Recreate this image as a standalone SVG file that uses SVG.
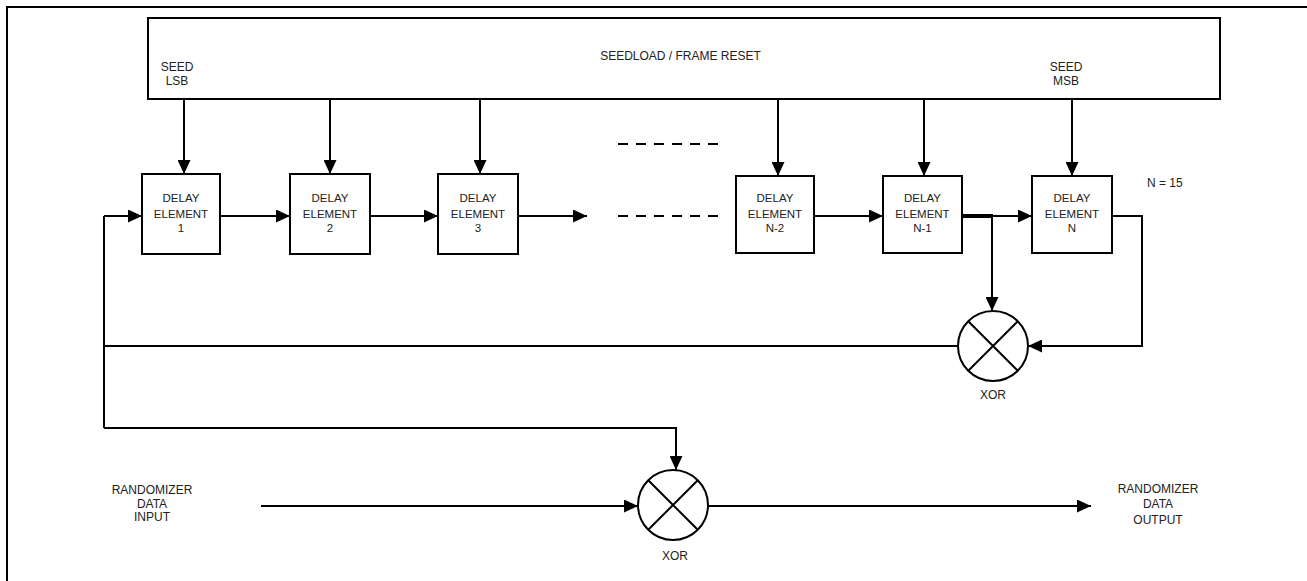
<svg xmlns="http://www.w3.org/2000/svg" width="1307" height="581" viewBox="0 0 1307 581">
<style>
  .ln { fill: none; stroke: #000; stroke-width: 2; }
  .arr { marker-end: url(#ah); }
  .box { fill: #fff; stroke: #000; stroke-width: 2; }
  .t { font-family: "Liberation Sans", Arial, sans-serif; font-size: 12px; fill: #222; text-anchor: middle; }
  .d { font-size: 11.5px; }
  .dash { fill: none; stroke: #000; stroke-width: 2; stroke-dasharray: 10 8; }
</style>
<defs>
  <marker id="ah" viewBox="0 0 14 13" refX="14" refY="6.5" markerWidth="14" markerHeight="13" markerUnits="userSpaceOnUse" orient="auto">
    <path d="M0,0 L14,6.5 L0,13 Z" fill="#000"/>
  </marker>
</defs>
<rect width="1307" height="581" fill="#fff"/>
<path class="ln" d="M7,581 V7 H1307"/>

<g id="seedload">
  <rect class="box" x="148" y="18" width="1072" height="81"/>
  <text class="t" x="680.5" y="60">SEEDLOAD / FRAME RESET</text>
  <text class="t" x="177" y="70.5">SEED</text>
  <text class="t" x="177" y="85">LSB</text>
  <text class="t" x="1066" y="70.5">SEED</text>
  <text class="t" x="1066" y="85">MSB</text>
</g>

<g id="de1">
  <rect class="box" x="142" y="174" width="78" height="80"/>
  <text class="t d" x="181" y="202">DELAY</text>
  <text class="t d" x="181" y="218">ELEMENT</text>
  <text class="t d" x="181" y="232">1</text>
</g>
<g id="de2">
  <rect class="box" x="290" y="174" width="80" height="80"/>
  <text class="t d" x="330" y="202">DELAY</text>
  <text class="t d" x="330" y="218">ELEMENT</text>
  <text class="t d" x="330" y="232">2</text>
</g>
<g id="de3">
  <rect class="box" x="438" y="174" width="80" height="80"/>
  <text class="t d" x="478" y="202">DELAY</text>
  <text class="t d" x="478" y="218">ELEMENT</text>
  <text class="t d" x="478" y="232">3</text>
</g>
<g id="den2">
  <rect class="box" x="736" y="176" width="78" height="77"/>
  <text class="t d" x="775" y="202">DELAY</text>
  <text class="t d" x="775" y="218">ELEMENT</text>
  <text class="t d" x="775" y="232">N-2</text>
</g>
<g id="den1">
  <rect class="box" x="883" y="176" width="79" height="77"/>
  <text class="t d" x="922.5" y="202">DELAY</text>
  <text class="t d" x="922.5" y="218">ELEMENT</text>
  <text class="t d" x="922.5" y="232">N-1</text>
</g>
<g id="den">
  <rect class="box" x="1032" y="176" width="80" height="77"/>
  <text class="t d" x="1072" y="202">DELAY</text>
  <text class="t d" x="1072" y="218">ELEMENT</text>
  <text class="t d" x="1072" y="232">N</text>
</g>

<g id="n15">
  <text class="t" x="1147" y="187" text-anchor="start" style="text-anchor:start">N = 15</text>
</g>

<g id="xor1">
  <circle class="box" cx="993" cy="346" r="35"/>
  <path class="ln" d="M968.5,321.5 L1017.5,370.5 M1017.5,321.5 L968.5,370.5"/>
  <text class="t" x="993" y="399">XOR</text>
</g>
<g id="xor2">
  <circle class="box" cx="673" cy="505" r="35"/>
  <path class="ln" d="M648.5,480.5 L697.5,529.5 M697.5,480.5 L648.5,529.5"/>
  <text class="t" x="675" y="560">XOR</text>
</g>

<g id="input-label">
  <text class="t" x="152" y="494">RANDOMIZER</text>
  <text class="t" x="152" y="507.5">DATA</text>
  <text class="t" x="152" y="520.5">INPUT</text>
</g>
<g id="output-label">
  <text class="t" x="1158" y="493">RANDOMIZER</text>
  <text class="t" x="1158" y="508">DATA</text>
  <text class="t" x="1158" y="524">OUTPUT</text>
</g>

<g id="connectors">
  <!-- seed load arrows -->
  <path class="ln arr" d="M184,99 V174"/>
  <path class="ln arr" d="M330,99 V174"/>
  <path class="ln arr" d="M480,99 V174"/>
  <path class="ln arr" d="M778,99 V176"/>
  <path class="ln arr" d="M924,99 V176"/>
  <path class="ln arr" d="M1072,99 V176"/>
  <!-- shift chain -->
  <path class="ln arr" d="M104,216 H142"/>
  <path class="ln arr" d="M220,216 H290"/>
  <path class="ln arr" d="M370,216 H438"/>
  <path class="ln arr" d="M518,216 H587"/>
  <path class="ln arr" d="M814,216 H883"/>
  <path class="ln arr" d="M962,216 H1032"/>
  <path fill="none" stroke="#000" stroke-width="4" d="M962,216 H993"/>
  <path class="dash" d="M618,144 H718"/>
  <path class="dash" d="M618,216 H718"/>
  <!-- taps to XOR1 -->
  <path class="ln arr" d="M992,216 V311"/>
  <path class="ln arr" d="M1112,216 H1142 V346 H1028"/>
  <!-- feedback -->
  <path class="ln" d="M958,346 H104"/>
  <path class="ln" d="M104,216 V428"/>
  <path class="ln arr" d="M104,428 H676 V470"/>
  <!-- data path -->
  <path class="ln arr" d="M261,506 H638"/>
  <path class="ln arr" d="M708,506 H1091"/>
</g>
</svg>
